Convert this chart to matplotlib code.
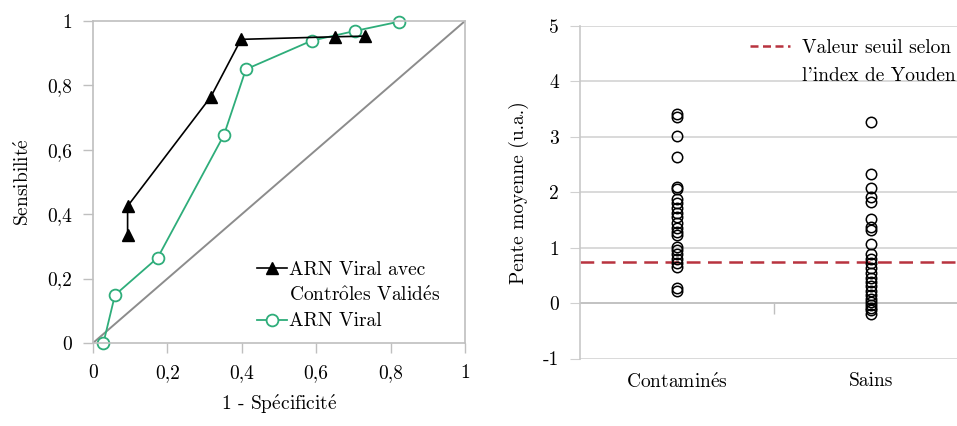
import matplotlib
matplotlib.use("Agg")
import matplotlib.pyplot as plt
from matplotlib.lines import Line2D

plt.rcParams['font.family'] = ['cmr10', 'DejaVu Serif']
plt.rcParams['mathtext.fontset'] = 'cm'
plt.rcParams['axes.unicode_minus'] = False

E = r'$\mathrm{\acute{e}}$'
O = r'$\mathrm{\hat{o}}$'

# ROC data
ctrl_x = [0.093, 0.093, 0.317, 0.398, 0.650, 0.731]
ctrl_y = [0.335, 0.425, 0.765, 0.943, 0.951, 0.953]
viral_x = [0.028, 0.059, 0.174, 0.352, 0.411, 0.588, 0.704, 0.823]
viral_y = [0.0, 0.149, 0.265, 0.646, 0.850, 0.939, 0.969, 0.998]
diag = [0, 1]
roc_ticks = [0, 0.2, 0.4, 0.6, 0.8, 1]
roc_ticklabels = ['0', '0,2', '0,4', '0,6', '0,8', '1']

# Slope data
categories = ['Contamin' + E + 's', 'Sains']
contamines = [3.42, 3.36, 3.01, 2.64, 2.10, 2.05, 1.87, 1.80, 1.72, 1.63, 1.55,
              1.45, 1.36, 1.28, 1.22, 1.02, 0.96, 0.88, 0.80, 0.72, 0.66, 0.27, 0.22]
sains = [3.27, 2.33, 2.07, 1.92, 1.83, 1.52, 1.38, 1.31, 1.06, 0.88, 0.80, 0.72,
         0.63, 0.55, 0.46, 0.38, 0.30, 0.22, 0.14, 0.07, 0.02, -0.03, -0.08, -0.13, -0.20]
threshold = 0.75
slope_ticks = [-1, 0, 1, 2, 3, 4, 5]

green = '#2EAD7A'
red = '#B8333F'

fig = plt.figure(figsize=(9.57, 4.26), dpi=100)

# ---- Left: ROC ----
ax1 = fig.add_axes([93/957, (426-343)/426, (465-93)/957, (343-21)/426])
ax1.plot(diag, diag, color='#8C8C8C', lw=1.4, zorder=1)
l_ctrl, = ax1.plot(ctrl_x, ctrl_y, color='black', lw=1.2, marker='^', ms=9,
                   mfc='black', mec='black', zorder=3)
l_vir, = ax1.plot(viral_x, viral_y, color=green, lw=1.3, marker='o', ms=8.5,
                  mfc='white', mec=green, mew=1.3, zorder=2, clip_on=False)
ax1.set_xlim(0, 1)
ax1.set_ylim(0, 1)
ax1.set_xticks(roc_ticks)
ax1.set_xticklabels(roc_ticklabels)
ax1.set_yticks(roc_ticks)
ax1.set_yticklabels(roc_ticklabels)
for s in ax1.spines.values():
    s.set_color('#BFBFBF')
    s.set_linewidth(1.2)
ax1.tick_params(direction='out', length=7, width=1, color='#BFBFBF',
                labelsize=14, pad=8)
ax1.set_xlabel('1 - Sp' + E + 'cificit' + E, fontsize=14, labelpad=8)
ax1.set_ylabel('Sensibilit' + E, fontsize=14, labelpad=10)
blank = Line2D([], [], color='none', lw=0)
ax1.legend([l_ctrl, blank, l_vir],
           ['ARN Viral avec', 'Contr' + O + 'les Valid' + E + 's', 'ARN Viral'],
           loc='upper left', bbox_to_anchor=(0.441, 0.255), frameon=False,
           fontsize=14, handlelength=1.55, handletextpad=0.1, borderpad=0,
           borderaxespad=0, labelspacing=0.37)

# ---- Right: slopes ----
ax2 = fig.add_axes([580/957, (426-358.5)/426, (957-580)/957, (358.5-26)/426])
ax2.set_ylim(-1, 5)
ax2.set_xlim(0, (957-580)/194)
ax2.set_yticks(slope_ticks)
ax2.set_yticklabels([str(t) for t in slope_ticks])
ax2.grid(axis='y', color='#D0D0D0', lw=1.1, zorder=0)
ax2.set_axisbelow(True)
for k in ['top', 'right', 'bottom']:
    ax2.spines[k].set_visible(False)
ax2.spines['left'].set_color('#C8C8C8')
ax2.spines['left'].set_linewidth(1.2)
ax2.tick_params(axis='y', direction='out', length=7, color='#D0D0D0',
                labelsize=14, pad=8)
ax2.set_xticks([0.5, 1.5])
ax2.set_xticklabels(categories)
ax2.tick_params(axis='x', length=0, labelsize=14, pad=10)
for i, vals in enumerate([contamines, sains]):
    ax2.plot([i + 0.5] * len(vals), vals, linestyle='none', marker='o', ms=7.5,
             mfc='none', mec='black', mew=1.1, zorder=3)
l_thr = ax2.axhline(threshold, color=red, lw=1.8, dashes=(5.5, 3), zorder=2)
ax2.axhline(0, color='#BFBFBF', lw=1.2, zorder=1)
sec = ax2.secondary_xaxis(1/6)
sec.set_xticks([1.0])
sec.set_xticklabels([''])
sec.spines['bottom'].set_visible(False)
sec.tick_params(direction='out', length=8, color='#BFBFBF', width=1)
ax2.set_ylabel('Pente moyenne (u.a.)', fontsize=14, labelpad=10)
leg_thr = Line2D([], [], color=red, lw=1.8, dashes=(3.2, 1.8))
ax2.legend([leg_thr, blank], ['Valeur seuil selon', "l'index de Youden"],
           loc='upper left', bbox_to_anchor=(0.451, 0.962), frameon=False,
           fontsize=14, handlelength=2.06, handletextpad=0.62, borderpad=0,
           borderaxespad=0, labelspacing=0.52)

fig.savefig('out.png', dpi=100)
